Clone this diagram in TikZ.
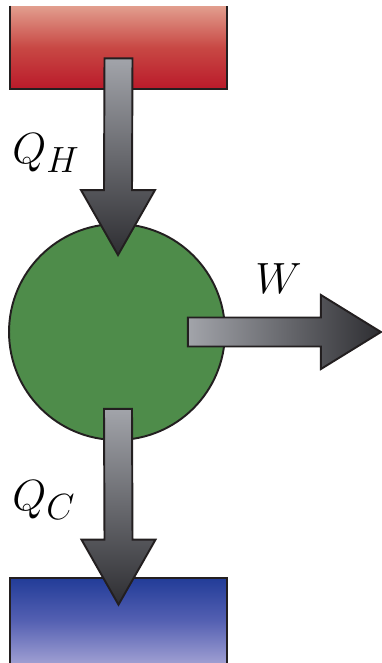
\documentclass[tikz,border=0pt]{standalone}
\usetikzlibrary{calc}
\definecolor{outline}{RGB}{35,31,32}
\definecolor{hottop}{RGB}{226,158,142}
\definecolor{hotmid}{RGB}{200,72,68}
\definecolor{hotbottom}{RGB}{186,26,42}
\definecolor{coldtop}{RGB}{34,60,152}
\definecolor{coldmid}{RGB}{84,96,178}
\definecolor{coldbottom}{RGB}{158,158,210}
\definecolor{enginegreen}{RGB}{78,140,74}
\definecolor{flowlight}{RGB}{162,164,170}
\definecolor{flowdark}{RGB}{46,46,50}
\tikzset{
reservoir/.style={rectangle, inner sep=0pt, minimum width=4.34cm},
engine/.style={circle, draw=outline, line width=1.1pt, fill=enginegreen, minimum size=4.32cm, inner sep=0pt},
edge/.style={draw=outline, line width=1.1pt},
flowarrow/.style={draw=outline, line width=1.1pt, line join=miter},
flowlabel/.style={font=\fontsize{30}{36}\selectfont, text=black, inner sep=0pt}
}
% block arrow pointing down, from #1 to #2
\newcommand{\flowdown}[2]{%
  \path[flowarrow, top color=flowlight, bottom color=flowdark]
    ($(#1)+(-14,0)$) -- ($(#1)+(14,0)$) -- ($(#2)+(14,-65)$) -- ($(#2)+(37,-65)$)
    -- (#2) -- ($(#2)+(-37,-65)$) -- ($(#2)+(-14,-65)$) -- cycle;}
% block arrow pointing right, from #1 to #2
\newcommand{\flowright}[2]{%
  \path[flowarrow, left color=flowlight, right color=flowdark]
    ($(#1)+(0,-14.5)$) -- ($(#2)+(-60,-14.5)$) -- ($(#2)+(-60,-37)$)
    -- (#2) -- ($(#2)+(-60,37)$) -- ($(#2)+(-60,14.5)$) -- ($(#1)+(0,14.5)$) -- cycle;}

\begin{document}
\begin{tikzpicture}[x=0.02cm,y=-0.02cm]
\useasboundingbox (0,0) rectangle (382,663);

% reservoirs and engine
\node[reservoir, minimum height=1.66cm, top color=hottop, bottom color=hotbottom, middle color=hotmid] (hot) at (118.5,47.5) {};
\draw[edge] (hot.north west) |- (hot.south east) -- (hot.north east);

\node[reservoir, minimum height=1.70cm, top color=coldtop, bottom color=coldbottom, middle color=coldmid] (cold) at (118.5,620.5) {};
\draw[edge] (cold.south west) |- (cold.north east) -- (cold.south east);

\node[engine] (eng) at (117,332) {};

% heat and work flows
\coordinate (qhtail) at ($(hot.south)+(0,-31)$);
\coordinate (qhtip) at ($(eng.north)+(1,32)$);
\flowdown{qhtail}{qhtip}

\coordinate (qctail) at ($(eng.south)+(1,-32)$);
\coordinate (qctip) at ($(cold.north)+(0,27)$);
\flowdown{qctail}{qctip}

\coordinate (wtail) at ($(eng.east)+(-38,0)$);
\coordinate (wtip) at ($(eng.east)+(155,0)$);
\flowright{wtail}{wtip}

% labels
\node[flowlabel, anchor=base west] (qh) at (12,163) {$Q_H$};
\node[flowlabel, anchor=base west] (qc) at (12,510) {$Q_C$};
\node[flowlabel, anchor=base west] (w) at (255,293) {$W$};

\end{tikzpicture}
\end{document}
